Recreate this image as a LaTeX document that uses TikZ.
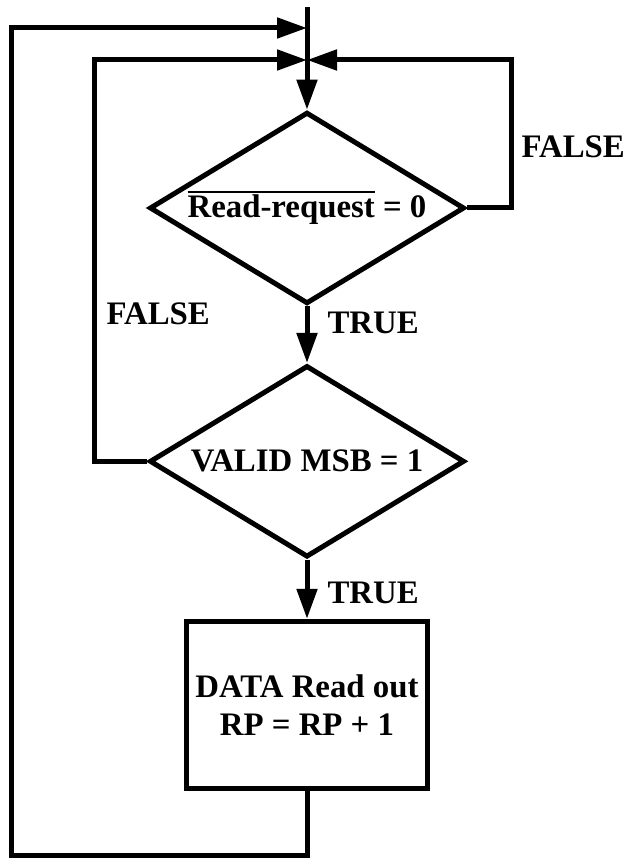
\documentclass[tikz,border=0pt]{standalone}
\usepackage{fontspec}
\setmainfont{Liberation Serif}
\usepackage{tikz}
\usetikzlibrary{shapes, arrows.meta, calc, positioning}

% bar over a signal name
\newcommand{\negbar}[1]{\vbox{\hrule height 1.2pt\kern 1pt\hbox{#1}}}

\begin{document}
\begin{tikzpicture}[>={Triangle[length=18pt,width=12pt]}, x=0.6pt, y=-0.6pt, line width=3pt,
    font=\fontsize{19.7}{22.8}\selectfont\bfseries]
    % Define styles locally
    \tikzstyle{decision} = [diamond, draw, aspect=1.67, inner sep=0pt, minimum width=189pt, minimum height=115pt]
    \tikzstyle{block} = [rectangle, draw, align=center, minimum width=144.6pt, minimum height=100pt]
    \tikzstyle{tag} = [inner sep=0pt]

    \useasboundingbox (0,0) rectangle (623,862);

    % Nodes
    \node[decision] (test1) at (307,208) {\negbar{Read-request} = 0};
    \node[decision, below=34pt of test1] (test2) {VALID MSB = 1};
    \node[block, below=35.5pt of test2] (readout) {DATA Read out\\RP = RP + 1};

    % Junctions
    \coordinate (start) at (307,7);
    \coordinate (outer) at (307,28);
    \coordinate (inner) at (307,60);
    \coordinate (bottom) at (11,855);

    % Connectors
    % Entry -> test1
    \draw (start) -- (inner);
    \draw[->] (inner) -- (test1.north);

    % test1 -> test2 (TRUE)
    \draw[->] (test1.south) -- node[tag, right=10.8pt, pos=0.3] {TRUE} (test2.north);

    % test2 -> readout (TRUE)
    \draw[->] (test2.south) -- node[tag, right=10.8pt, pos=0.57] {TRUE} (readout.north);

    % test1 back to top (FALSE)
    \draw[->] (test1.east) -- ++(44,0) |- node[tag, right=4.8pt, pos=0.206] {FALSE} (inner);

    % test2 back to top (FALSE)
    \draw[->] (test2.west) -- ++(-53,0) |- node[tag, right=6pt, pos=0.184] {FALSE} (inner);

    % readout back to top
    \draw[->] (readout.south) |- (bottom) |- (outer);

\end{tikzpicture}
\end{document}
